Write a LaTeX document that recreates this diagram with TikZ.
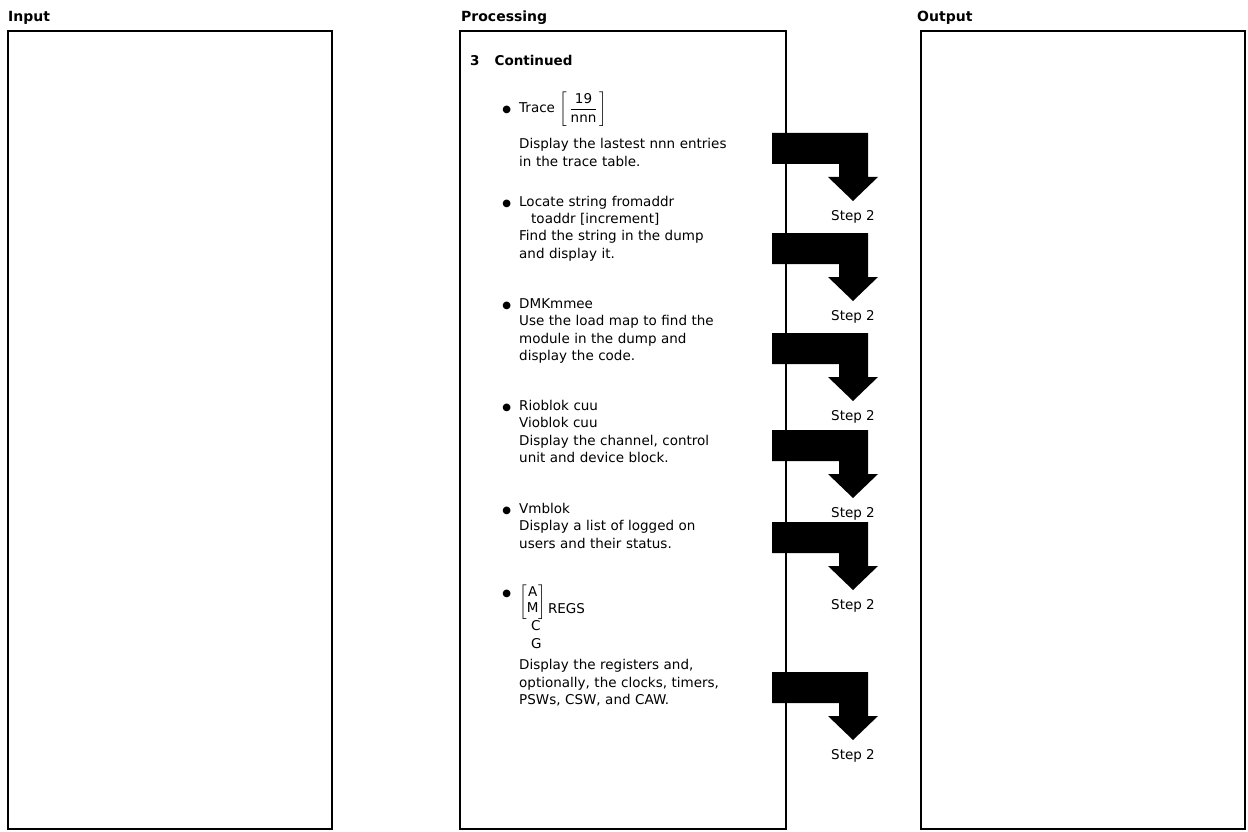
\documentclass[tikz,border=0pt]{standalone}
\usepackage{amsmath}
\usepackage{fontspec}
\setmainfont{DejaVu Sans}
\usepackage{tikz}

\tikzset{
  panel/.style={draw, line width=2pt},
  colhead/.style={font=\fontsize{14}{16}\selectfont\bfseries, anchor=base west, inner sep=0pt},
  entry/.style={font=\fontsize{13.5}{17.5}\selectfont, anchor=base west, inner sep=0pt,
    text width=260pt, align=left},
  steplabel/.style={font=\fontsize{13.5}{16}\selectfont, anchor=base, inner sep=0pt},
}
% bullet hung to the left of an entry (optional lift)
\newcommand{\dotmark}[1][0pt]{\llap{\raisebox{#1}{\fontsize{10}{10}\selectfont ●}\hspace{8pt}}}

\begin{document}
\begin{tikzpicture}[x=1pt,y=-1pt]
\useasboundingbox (0,0) rectangle (1248,832);

% Three panels
\draw[panel] (8,31) rectangle (332,829);
\draw[panel] (460,31) rectangle (786,829);
\draw[panel] (921,31) rectangle (1245,829);
\node[colhead] (inp) at (8,22) {Input};
\node[colhead] (proc) at (461,22) {Processing};
\node[colhead] (outp) at (917,22) {Output};

% Processing text
\node[colhead, font=\fontsize{13.5}{16}\selectfont\bfseries] (cont) at (470,66) {3\hspace{15pt}Continued};

\node[entry] (trace) at (519,113) {\dotmark Trace \(\left[\,\dfrac{\text{19}}{\text{nnn}}\,\right]\)\\[11pt]
  Display the lastest nnn entries\\
  in the trace table.};

\node[entry] (locate) at (519,206) {\dotmark Locate string fromaddr\\
  \hspace*{12pt}toaddr [increment]\\
  Find the string in the dump\\
  and display it.};

\node[entry] (dmk) at (519,308) {\dotmark DMKmmee\\
  Use the load map to find the\\
  module in the dump and\\
  display the code.};

\node[entry] (rioblok) at (519,410) {\dotmark Rioblok cuu\\
  Vioblok cuu\\
  Display the channel, control\\
  unit and device block.};

\node[entry] (vmblok) at (519,513) {\dotmark Vmblok\\
  Display a list of logged on\\
  users and their status.};

\node[entry] (regs) at (519,613) {\dotmark[17pt]\raisebox{7.7pt}{\(\left[\vcenter{\hbox{\renewcommand\arraystretch{0.9}%
  \begin{tabular}{@{}c@{}}A\\M\end{tabular}}}\right]\)}\hspace{2pt}REGS\\
  \hspace*{12pt}C\\
  \hspace*{12pt}G\\[4pt]
  Display the registers and,\\
  optionally, the clocks, timers,\\
  PSWs, CSW, and CAW.};

% Block arrows out to the output side
\foreach \y/\n in {133/1,233/2,333/3,430/4,522/5,672/6} {
  \begin{scope}[shift={(0,\y)}]
    \fill (772,0) -- (868,0) -- (868,44) -- (878,44) -- (853,68)
      -- (828,44) -- (839,44) -- (839,31) -- (772,31) -- cycle;
    \node[steplabel] (step\n) at (853,87) {Step 2};
  \end{scope}
}
\end{tikzpicture}
\end{document}
